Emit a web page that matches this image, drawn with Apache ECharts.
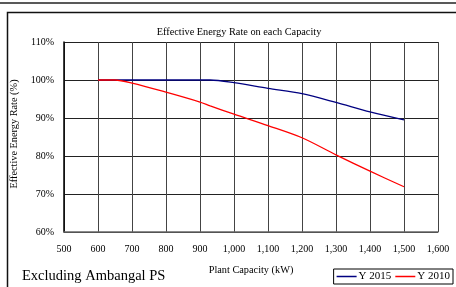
<!DOCTYPE html>
<html><head><meta charset="utf-8">
<script src="https://cdn.jsdelivr.net/npm/echarts@6/dist/echarts.min.js"></script>
<style>html,body{margin:0;padding:0;background:#fff}#c{width:456px;height:287px}</style>
</head><body><div id="c"></div>
<script>
const capacityKW = [600, 650, 700, 800, 900, 930, 1000, 1100, 1200, 1300, 1400, 1500];
const rate2015 = [100, 100, 100, 100, 100, 100, 99.3, 97.8, 96.4, 94.1, 91.6, 89.5];
const rate2010 = [100, 100, 99.2, 96.8, 94.2, 93.2, 91.0, 88.0, 84.8, 80.3, 76.0, 71.9];
const seriesNames = ['Y 2015', 'Y 2010'];
const xTicks = {min: 500, max: 1600, step: 100};
const yTicks = {min: 60, max: 110, step: 10};

const pairs = (xs, ys) => xs.map((x, i) => [x, ys[i]]);
const serif = '"Liberation Serif", "DejaVu Serif", serif';
const chart = echarts.init(document.getElementById('c'), null, {renderer: 'canvas'});
chart.setOption({
  animation: false,
  backgroundColor: '#fff',
  title: {
    text: 'Effective Energy Rate on each Capacity',
    left: 234, top: 22, textAlign: 'center',
    textStyle: {fontFamily: serif, fontSize: 10.3, fontWeight: 'normal', color: '#000'}
  },
  grid: {left: 64, right: 18, top: 42, bottom: 55},
  xAxis: {
    type: 'value', min: xTicks.min, max: xTicks.max, interval: xTicks.step,
    name: 'Plant Capacity (kW)', nameLocation: 'middle', nameGap: 33,
    nameTextStyle: {fontFamily: serif, fontSize: 10.3, color: '#000'},
    axisLine: {lineStyle: {color: '#666', width: 1.5}},
    axisTick: {show: false},
    axisLabel: {fontFamily: serif, fontSize: 10, color: '#000', margin: 12,
      formatter: v => v.toLocaleString('en-US')},
    splitLine: {show: true, lineStyle: {color: '#444', width: 1}}
  },
  yAxis: {
    type: 'value', min: yTicks.min, max: yTicks.max, interval: yTicks.step,
    name: 'Effective Energy Rate (%)', nameLocation: 'middle', nameGap: 44, nameRotate: 90,
    nameTextStyle: {fontFamily: serif, fontSize: 10.3, color: '#000', padding: [0, 0, 0, 6]},
    axisLine: {show: true, lineStyle: {color: '#000', width: 1.5}},
    axisTick: {show: false},
    axisLabel: {fontFamily: serif, fontSize: 10, color: '#000', margin: 10, formatter: '{value}%'},
    splitLine: {show: true, lineStyle: {color: '#222', width: 1}}
  },
  legend: {
    right: 3, top: 269, itemGap: 4, padding: [2, 3, 2, 3],
    borderColor: '#000', borderWidth: 1,
    icon: 'rect', itemWidth: 20, itemHeight: 1.5,
    textStyle: {fontFamily: serif, fontSize: 11, color: '#000', padding: [0, 0, 0, -3]},
    data: seriesNames
  },
  series: [
    {name: seriesNames[0], type: 'line', data: pairs(capacityKW, rate2015), symbol: 'none', smooth: 0.3,
      lineStyle: {color: '#000080', width: 1.3}, itemStyle: {color: '#000080'}},
    {name: seriesNames[1], type: 'line', data: pairs(capacityKW, rate2010), symbol: 'none', smooth: 0.3,
      lineStyle: {color: '#ff0000', width: 1.3}, itemStyle: {color: '#ff0000'}}
  ],
  graphic: [
    {type: 'line', shape: {x1: 0, y1: 3, x2: 456, y2: 3}, style: {stroke: '#222', lineWidth: 1.5}},
    {type: 'rect', shape: {x: 7.5, y: 12.5, width: 460, height: 290}, style: {fill: 'none', stroke: '#111', lineWidth: 1.5}, z: -1},
    {type: 'text', left: 22, top: 269, style: {text: 'Excluding Ambangal PS', font: '14.5px ' + serif, fill: '#000'}}
  ]
});
</script></body></html>
